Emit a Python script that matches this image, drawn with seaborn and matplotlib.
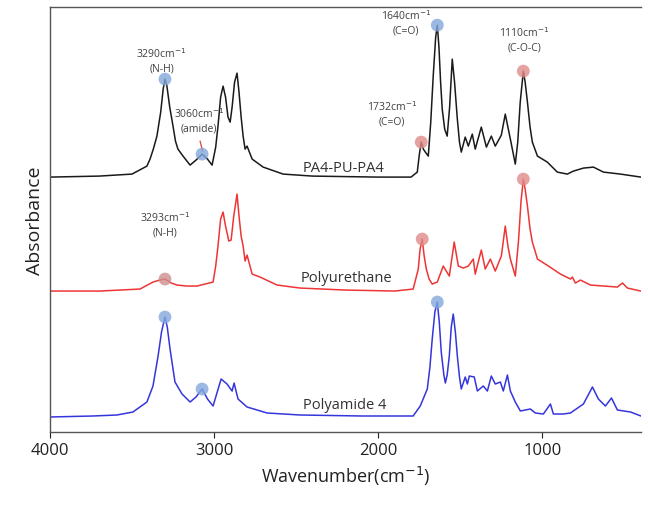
import numpy as np
import pandas as pd
import matplotlib
matplotlib.use('Agg')
import matplotlib.pyplot as plt
import seaborn as sns

# spectra (wavenumber, absorbance in arbitrary units above baseline)
pa4_pu_wn = [4000, 3700, 3500, 3409, 3390, 3370, 3348, 3325, 3310, 3299, 3288, 3270, 3250,
             3235, 3220, 3189, 3146, 3110, 3073, 3040, 3012, 2990, 2976, 2960, 2945, 2930,
             2915, 2902, 2890, 2875, 2860, 2848, 2835, 2823, 2811, 2799, 2768, 2701, 2579,
             2400, 2000, 1800, 1762, 1750, 1738, 1725, 1713, 1695, 1680, 1665, 1650, 1640,
             1630, 1620, 1610, 1595, 1580, 1565, 1549, 1535, 1518, 1505, 1494, 1470, 1451,
             1427, 1409, 1372, 1341, 1311, 1287, 1250, 1226, 1210, 1195, 1165, 1150, 1135,
             1116, 1105, 1091, 1075, 1061, 1030, 970, 909, 848, 811, 750, 689, 628, 524, 400]
pa4_pu_abs = [0, 1, 3, 11, 18, 28, 41, 65, 88, 98, 92, 70, 51,
              36, 28, 21, 12, 17, 23, 18, 12, 30, 51, 80, 91, 80,
              60, 55, 70, 95, 104, 85, 60, 41, 28, 31, 18, 10, 3,
              1, 0, 0, 5, 22, 35, 28, 25, 21, 55, 101, 140, 152,
              130, 95, 68, 48, 41, 70, 118, 95, 58, 35, 25, 40, 31,
              43, 28, 50, 30, 41, 31, 42, 63, 50, 38, 13, 35, 75,
              106, 95, 75, 50, 35, 21, 15, 5, 3, 6, 9, 10, 5, 3, 0]

pu_wn = [4000, 3695, 3451, 3372, 3330, 3299, 3260, 3226, 3165, 3104, 3006, 2990, 2976,
         2960, 2945, 2930, 2910, 2896, 2880, 2860, 2848, 2835, 2823, 2811, 2799, 2768,
         2720, 2616, 2476, 2200, 1900, 1787, 1756, 1745, 1732, 1720, 1707, 1690, 1671,
         1640, 1604, 1567, 1537, 1512, 1482, 1451, 1421, 1409, 1372, 1348, 1317, 1287,
         1250, 1226, 1210, 1195, 1165, 1146, 1130, 1116, 1105, 1091, 1075, 1061, 1030,
         963, 890, 829, 817, 799, 768, 707, 543, 512, 482, 400]
pu_abs = [0, 0, 2, 9, 11, 12, 8, 6, 5, 5, 9, 25, 45,
          72, 79, 65, 50, 51, 75, 97, 75, 55, 45, 30, 36, 17,
          14, 6, 3, 1, 0, 2, 22, 42, 52, 35, 22, 12, 7,
          9, 25, 15, 49, 25, 23, 25, 32, 17, 41, 22, 32, 20,
          35, 65, 45, 32, 15, 49, 90, 112, 102, 85, 62, 49, 32,
          25, 17, 12, 14, 8, 11, 6, 4, 8, 3, 0]

pa4_wn = [4000, 3738, 3591, 3494, 3409, 3372, 3341, 3320, 3299, 3285, 3268, 3250, 3238,
          3195, 3146, 3110, 3073, 3040, 3006, 2957, 2921, 2890, 2878, 2854, 2799, 2677,
          2476, 2100, 1787, 1744, 1701, 1685, 1671, 1655, 1640, 1628, 1616, 1600, 1591,
          1580, 1567, 1555, 1543, 1530, 1518, 1505, 1494, 1470, 1457, 1445, 1415, 1396,
          1360, 1335, 1311, 1287, 1256, 1238, 1213, 1195, 1165, 1134, 1073, 1043, 994,
          951, 933, 872, 829, 750, 695, 659, 616, 579, 543, 463, 400]
pa4_abs = [0, 1, 2, 5, 15, 31, 61, 85, 100, 90, 68, 48, 35,
           23, 15, 20, 28, 18, 11, 38, 33, 26, 34, 18, 10, 4,
           2, 1, 1, 11, 28, 50, 78, 105, 115, 95, 65, 42, 34,
           42, 61, 90, 103, 85, 61, 40, 28, 40, 33, 41, 40, 26,
           31, 26, 41, 33, 35, 26, 42, 26, 15, 6, 8, 4, 3,
           13, 3, 3, 4, 13, 30, 18, 11, 19, 7, 5, 1]

names = ['PA4-PU-PA4', 'Polyurethane', 'Polyamide 4']
offsets = [255, 141, 15]
line_colors = ['#1a1a1a', '#ee3535', '#3535dd']

# marked peaks: (wavenumber, circle colour) per spectrum
peaks = {
    'PA4-PU-PA4': [(3299, 'blue'), (3073, 'blue'), (1738, 'red'), (1640, 'blue'), (1116, 'red')],
    'Polyurethane': [(3299, 'brown'), (1732, 'red'), (1116, 'red')],
    'Polyamide 4': [(3299, 'blue'), (3073, 'blue'), (1640, 'blue')],
}
circle_colors = {'blue': '#84a8dc', 'red': '#e08a8a', 'brown': '#cf8f8f'}

# annotation text: (label, wavenumber, height)
notes = [
    ('3290cm$^{-1}$\n(N-H)', 3320, 372),
    ('3060cm$^{-1}$\n(amide)', 3090, 312),
    ('1640cm$^{-1}$\n(C=O)', 1830, 410),
    ('1732cm$^{-1}$\n(C=O)', 1915, 319),
    ('1110cm$^{-1}$\n(C-O-C)', 1110, 393),
    ('3293cm$^{-1}$\n(N-H)', 3300, 208),
]
name_pos = [(2213, 265), (2195, 155), (2207, 28)]

sns.set_style('white')
plt.rcParams['font.family'] = ['Open Sans', 'DejaVu Sans']

frames = []
for n, wn, ab, off in zip(names, [pa4_pu_wn, pu_wn, pa4_wn], [pa4_pu_abs, pu_abs, pa4_abs], offsets):
    frames.append(pd.DataFrame({'wn': wn, 'y': np.array(ab) + off, 'sample': n}))
df = pd.concat(frames, ignore_index=True)

fig, ax = plt.subplots(figsize=(6.48, 5.10), dpi=100)
fig.subplots_adjust(left=0.077, right=0.989, bottom=0.151, top=0.984)

sns.lineplot(data=df, x='wn', y='y', hue='sample', hue_order=names, palette=line_colors,
             estimator=None, sort=False, linewidth=1.1, legend=False, ax=ax)

for n, off in zip(names, offsets):
    sub = df[df['sample'] == n].sort_values('wn')
    for w, c in peaks[n]:
        yv = np.interp(w, sub['wn'], sub['y'])
        ax.scatter(w, yv, s=85, color=circle_colors[c], alpha=0.8, edgecolor='none', zorder=3)

for txt, w, h in notes:
    ax.text(w, h, txt, ha='center', va='center', fontsize=7.5, color='#404040', linespacing=1.3)

# small pointer from the amide label to its peak
ax.plot([3085, 3070], [291, 281], color='#e05050', linewidth=1)

for n, (w, h) in zip(names, name_pos):
    ax.text(w, h, n, ha='center', va='center', fontsize=10.5, color='#333333')

ax.set_xlim(4000, 400)
ax.set_ylim(0, 425)
ax.set_xticks([4000, 3000, 2000, 1000])
ax.set_yticks([])
ax.tick_params(axis='x', direction='out', length=4, labelsize=12, colors='#222222', bottom=True)
ax.set_xlabel('Wavenumber(cm$^{-1}$)', fontsize=13, color='#222222')
ax.set_ylabel('Absorbance', fontsize=14, color='#222222')

ax.spines['right'].set_visible(False)
for s in ['left', 'bottom', 'top']:
    ax.spines[s].set_color('#555555')
    ax.spines[s].set_linewidth(1.0)

plt.savefig('out.png')
plt.close()
